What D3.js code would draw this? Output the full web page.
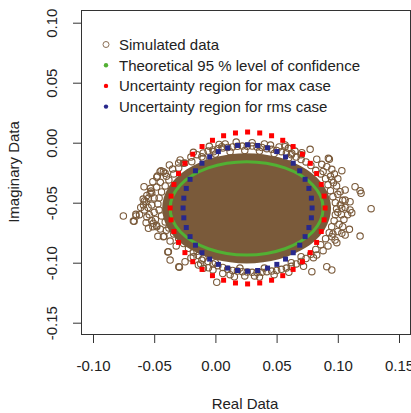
<!DOCTYPE html>
<meta charset="utf-8">
<script src="https://d3js.org/d3.v7.min.js"></script>
<style>
body { margin: 0; background: #fff; }
svg { display: block; font-family: "Liberation Sans", Arial, sans-serif; }
.axis text { font-size: 15px; fill: #222; }
.axis path, .axis line { stroke: #333; }
.frame { fill: none; stroke: #333; stroke-width: 1; }
.sim { fill: none; stroke: #7a5a3a; stroke-width: 1.1; }
.core { fill: #7a5a3a; stroke: none; }
.theo { fill: none; stroke: #52b033; stroke-width: 3; }
.maxpt { fill: #ff0000; }
.rmspt { fill: #28288c; }
.legend text, .label { font-size: 15px; fill: #222; }
</style>
<body>
<script>

// tick labels
var xTicks = [-0.10, -0.05, 0.00, 0.05, 0.10, 0.15];
var yTicks = [-0.15, -0.10, -0.05, 0.00, 0.05, 0.10];

var legendLabels = ["Simulated data", "Theoretical 95 % level of confidence",
  "Uncertainty region for max case", "Uncertainty region for rms case"];

// dense centre of the simulated cloud (outline of the solid area)
var coreOutline = [
  [0.0945,-0.0547],[0.0893,-0.0371],[0.0743,-0.0222],[0.0519,-0.0122],[0.0255,-0.0087],
  [-0.0009,-0.0122],[-0.0233,-0.0222],[-0.0383,-0.0371],[-0.0435,-0.0547],[-0.0383,-0.0723],
  [-0.0233,-0.0872],[-0.0009,-0.0972],[0.0255,-0.1007],[0.0519,-0.0972],[0.0743,-0.0872],
  [0.0893,-0.0723]
];

// simulated points around the centre (band + outliers)
var simulated = [
  // outliers left
  [-0.0752,-0.0611],[-0.0670,-0.0653],[-0.0648,-0.0611],[-0.0588,-0.0519],[-0.0580,-0.0486],
  [-0.0533,-0.0422],[-0.0525,-0.0403],[-0.0511,-0.0325],[-0.0474,-0.0278],[-0.0452,-0.0242],
  [-0.0376,-0.0186],[-0.0288,-0.0144],[-0.0566,-0.0667],[-0.0547,-0.0713],[-0.0511,-0.0700],
  [-0.0479,-0.0700],[-0.0425,-0.0783],[-0.0384,-0.0908],[-0.0370,-0.0978],[-0.0299,-0.1033],
  [-0.0411,-0.0255],[-0.0444,-0.0233],[-0.0479,-0.0288],[-0.0583,-0.0367],[-0.0547,-0.0463],
  [-0.0566,-0.0492],[-0.0261,-0.0172],[-0.0650,-0.0597],[-0.0664,-0.0655],[-0.0507,-0.0672],
  [-0.0389,-0.0911],[-0.0294,-0.1038],[-0.0248,-0.0992],[-0.0139,-0.1019],[-0.0057,-0.1042],
  [0.0011,-0.1163],[-0.0180,-0.0950],[-0.0111,-0.0978],[0.0155,-0.1117],[-0.0098,-0.1047],
  [-0.0425,-0.0242],
  // outliers top
  [0.0052,-0.0033],[-0.0016,-0.0075],[-0.0111,-0.0117],[-0.0193,-0.0158],[0.0569,-0.0033],
  [0.0596,-0.0047],[0.0774,-0.0055],[0.0569,-0.0019],[0.0624,-0.0088],[0.0706,-0.0083],
  // outliers right
  [0.0931,-0.0138],[0.0828,-0.0138],[0.0869,-0.0180],[0.0910,-0.0200],[0.0951,-0.0222],
  [0.0972,-0.0261],[0.1033,-0.0233],[0.0951,-0.0311],[0.0964,-0.0333],[0.1141,-0.0367],
  [0.1190,-0.0422],[0.1060,-0.0394],[0.1019,-0.0408],[0.1100,-0.0492],[0.1060,-0.0478],
  [0.1033,-0.0547],[0.1100,-0.0561],[0.1272,-0.0550],[0.1182,-0.0778],[0.1182,-0.0400],
  [0.0923,-0.0130],[0.1095,-0.0722],[0.1060,-0.0769],[0.0978,-0.0811],[0.0910,-0.1033],
  [0.0951,-0.1061],[0.0788,-0.1075],[0.1033,-0.0755],[0.0992,-0.0833],[0.0951,-0.0783],
  [0.1114,-0.0583],[0.0828,-0.0936],[0.0801,-0.0958],
  // band top
  [-0.0200,-0.0120],[-0.0150,-0.0100],[-0.0100,-0.0085],[-0.0060,-0.0070],[-0.0020,-0.0060],
  [0.0020,-0.0050],[0.0060,-0.0045],[0.0100,-0.0040],[0.0140,-0.0035],[0.0180,-0.0030],
  [0.0220,-0.0028],[0.0260,-0.0030],[0.0300,-0.0028],[0.0340,-0.0035],[0.0380,-0.0040],
  [0.0420,-0.0050],[0.0460,-0.0055],[0.0500,-0.0065],[0.0540,-0.0075],[0.0580,-0.0085],
  [0.0620,-0.0100],[0.0660,-0.0120],[0.0700,-0.0140],[0.0740,-0.0160],[-0.0100,-0.0130],
  [0.0000,-0.0095],[0.0120,-0.0075],[0.0240,-0.0065],[0.0360,-0.0070],[0.0480,-0.0090],
  [0.0600,-0.0125],[0.0080,-0.0010],[0.0400,-0.0010],
  [-0.0050,-0.0030],[0.0030,-0.0015],[0.0170,0.0005],[0.0300,0.0000],[0.0450,-0.0020],
  [0.0520,-0.0035],[0.0650,-0.0070],[-0.0180,-0.0080],[0.0700,-0.0100],
  // band right
  [0.0780,-0.0190],[0.0820,-0.0230],[0.0860,-0.0260],[0.0900,-0.0300],[0.0920,-0.0350],
  [0.0940,-0.0400],[0.0960,-0.0450],[0.0980,-0.0500],[0.0990,-0.0550],[0.0980,-0.0600],
  [0.0970,-0.0650],[0.0950,-0.0700],[0.0930,-0.0750],[0.0900,-0.0800],[0.0860,-0.0850],
  [0.0820,-0.0890],[0.1000,-0.0430],[0.1020,-0.0520],[0.1030,-0.0600],[0.1010,-0.0680],
  [0.0990,-0.0360],[0.1050,-0.0640],[0.1000,-0.0740],
  [0.0880,-0.0240],[0.0940,-0.0280],[0.1000,-0.0300],[0.1040,-0.0480],[0.1080,-0.0600],
  [0.1040,-0.0700],[0.0960,-0.0760],[0.0920,-0.0860],[0.0880,-0.0900],[0.1060,-0.0540],
  [0.1000,-0.0580],
  // band bottom
  [0.0780,-0.0930],[0.0740,-0.0965],[0.0700,-0.0990],[0.0660,-0.1010],[0.0620,-0.1030],
  [0.0580,-0.1045],[0.0540,-0.1055],[0.0500,-0.1065],[0.0460,-0.1070],[0.0420,-0.1075],
  [0.0380,-0.1080],[0.0340,-0.1082],[0.0300,-0.1080],[0.0260,-0.1078],[0.0220,-0.1075],
  [0.0180,-0.1070],[0.0140,-0.1065],[0.0100,-0.1055],[0.0060,-0.1040],[0.0020,-0.1025],
  [-0.0020,-0.1010],[-0.0060,-0.0990],[-0.0100,-0.0965],[-0.0140,-0.0940],[-0.0180,-0.0910],
  [-0.0220,-0.0880],[0.0620,-0.1000],[0.0400,-0.1045],[0.0200,-0.1045],[0.0000,-0.1000],
  [-0.0150,-0.0905],[0.0320,-0.1110],[0.0060,-0.1090],
  [0.0720,-0.1030],[0.0600,-0.1080],[0.0480,-0.1100],[0.0360,-0.1120],[0.0240,-0.1110],
  [0.0120,-0.1100],[-0.0020,-0.1060],[-0.0120,-0.1010],[-0.0200,-0.0960],[0.0700,-0.0950],
  // band left
  [-0.0260,-0.0840],[-0.0300,-0.0800],[-0.0340,-0.0760],[-0.0380,-0.0710],[-0.0410,-0.0660],
  [-0.0440,-0.0610],[-0.0460,-0.0560],[-0.0470,-0.0510],[-0.0460,-0.0460],[-0.0440,-0.0410],
  [-0.0410,-0.0360],[-0.0380,-0.0310],[-0.0340,-0.0260],[-0.0300,-0.0210],[-0.0250,-0.0170],
  [-0.0500,-0.0580],[-0.0520,-0.0520],[-0.0500,-0.0460],[-0.0490,-0.0640],[-0.0540,-0.0600],
  [-0.0530,-0.0380],[-0.0480,-0.0370],[-0.0450,-0.0720],[-0.0420,-0.0780],[-0.0580,-0.0560],
  [-0.0610,-0.0540],[-0.0560,-0.0620],
  [-0.0320,-0.0860],[-0.0370,-0.0820],[-0.0400,-0.0730],[-0.0480,-0.0690],[-0.0520,-0.0650],
  [-0.0550,-0.0540],[-0.0560,-0.0440],[-0.0520,-0.0420],[-0.0450,-0.0330],[-0.0400,-0.0280],
  [-0.0350,-0.0220],[-0.0300,-0.0170],[-0.0620,-0.0600],[-0.0590,-0.0470],[-0.0470,-0.0780]
];

// theoretical 95 % ellipse
var theoretical = [
  [0.0880,-0.0547],[0.0859,-0.0446],[0.0796,-0.0352],[0.0697,-0.0272],[0.0568,-0.0210],
  [0.0417,-0.0171],[0.0255,-0.0158],[0.0093,-0.0171],[-0.0058,-0.0210],[-0.0187,-0.0272],
  [-0.0286,-0.0352],[-0.0349,-0.0446],[-0.0370,-0.0547],[-0.0349,-0.0648],[-0.0286,-0.0742],
  [-0.0187,-0.0822],[-0.0058,-0.0884],[0.0093,-0.0923],[0.0255,-0.0936],[0.0417,-0.0923],
  [0.0568,-0.0884],[0.0697,-0.0822],[0.0796,-0.0742],[0.0859,-0.0648]
];

// uncertainty region, max case
var maxCase = [
  [0.0896,-0.0544],[0.0888,-0.0445],[0.0865,-0.0348],[0.0827,-0.0257],[0.0775,-0.0172],
  [0.0711,-0.0096],[0.0635,-0.0032],[0.0550,0.0020],[0.0459,0.0058],[0.0362,0.0081],
  [0.0263,0.0089],[0.0164,0.0081],[0.0067,0.0058],[-0.0024,0.0020],[-0.0109,-0.0032],
  [-0.0185,-0.0096],[-0.0249,-0.0172],[-0.0301,-0.0257],[-0.0339,-0.0348],[-0.0362,-0.0445],
  [-0.0370,-0.0544],[-0.0362,-0.0643],[-0.0339,-0.0740],[-0.0301,-0.0831],[-0.0249,-0.0916],
  [-0.0185,-0.0992],[-0.0109,-0.1056],[-0.0024,-0.1108],[0.0067,-0.1146],[0.0164,-0.1169],
  [0.0263,-0.1177],[0.0362,-0.1169],[0.0459,-0.1146],[0.0550,-0.1108],[0.0635,-0.1056],
  [0.0711,-0.0992],[0.0775,-0.0916],[0.0827,-0.0831],[0.0865,-0.0740],[0.0888,-0.0643]
];

// uncertainty region, rms case
var rmsCase = [
  [0.0790,-0.0544],[0.0784,-0.0462],[0.0764,-0.0381],[0.0733,-0.0305],[0.0689,-0.0234],
  [0.0636,-0.0171],[0.0573,-0.0118],[0.0502,-0.0074],[0.0426,-0.0043],[0.0345,-0.0023],
  [0.0263,-0.0017],[0.0181,-0.0023],[0.0100,-0.0043],[0.0024,-0.0074],[-0.0047,-0.0118],
  [-0.0110,-0.0171],[-0.0163,-0.0234],[-0.0207,-0.0305],[-0.0238,-0.0381],[-0.0258,-0.0462],
  [-0.0264,-0.0544],[-0.0258,-0.0626],[-0.0238,-0.0707],[-0.0207,-0.0783],[-0.0163,-0.0854],
  [-0.0110,-0.0917],[-0.0047,-0.0970],[0.0024,-0.1014],[0.0100,-0.1045],[0.0181,-0.1065],
  [0.0263,-0.1071],[0.0345,-0.1065],[0.0426,-0.1045],[0.0502,-0.1014],[0.0573,-0.0970],
  [0.0636,-0.0917],[0.0689,-0.0854],[0.0733,-0.0783],[0.0764,-0.0707],[0.0784,-0.0626]
];

var W = 411, H = 413;
var box = {left: 81, top: 10, right: 410, bottom: 334};

var svg = d3.select("body").append("svg")
  .attr("width", W)
  .attr("height", H);

var x = d3.scaleLinear()
  .domain([-0.10, 0.15])
  .range([93, 399]);

var y = d3.scaleLinear()
  .domain([-0.15, 0.10])
  .range([322.7, 22.7]);

// R style labels: plain hyphen for minus
var fmt = function(d) { return d3.format(".2f")(d).replace("\u2212", "-"); };

var plot = svg.append("g");

plot.append("path")
  .datum(coreOutline)
  .attr("class", "core")
  .attr("d", d3.line()
    .x(function(d) { return x(d[0]); })
    .y(function(d) { return y(d[1]); })
    .curve(d3.curveCardinalClosed));

plot.selectAll(".sim")
  .data(simulated).enter().append("circle")
  .attr("class", "sim")
  .attr("r", 3.2)
  .attr("cx", function(d) { return x(d[0]); })
  .attr("cy", function(d) { return y(d[1]); });

plot.append("path")
  .datum(theoretical)
  .attr("class", "theo")
  .attr("d", d3.line()
    .x(function(d) { return x(d[0]); })
    .y(function(d) { return y(d[1]); })
    .curve(d3.curveCardinalClosed));

plot.selectAll(".maxpt")
  .data(maxCase).enter().append("rect")
  .attr("class", "maxpt")
  .attr("width", 5).attr("height", 5)
  .attr("x", function(d) { return x(d[0]) - 2.5; })
  .attr("y", function(d) { return y(d[1]) - 2.5; });

plot.selectAll(".rmspt")
  .data(rmsCase).enter().append("rect")
  .attr("class", "rmspt")
  .attr("width", 5).attr("height", 5)
  .attr("x", function(d) { return x(d[0]) - 2.5; })
  .attr("y", function(d) { return y(d[1]) - 2.5; });

// frame
svg.append("rect")
  .attr("class", "frame")
  .attr("x", box.left + 0.5).attr("y", box.top + 0.5)
  .attr("width", box.right - box.left).attr("height", box.bottom - box.top);

// axes
var xAxis = svg.append("g")
  .attr("class", "axis")
  .attr("transform", "translate(0," + (box.bottom + 0.5) + ")")
  .call(d3.axisBottom(x).tickValues(xTicks).tickFormat(fmt).tickSize(8.5).tickPadding(0));
xAxis.select(".domain").remove();
xAxis.selectAll("text").attr("y", 36).attr("dy", 0);

var yAxis = svg.append("g")
  .attr("class", "axis")
  .attr("transform", "translate(" + (box.left + 0.5) + ",0)")
  .call(d3.axisLeft(y).tickValues(yTicks).tickFormat(fmt).tickSize(8.5));
yAxis.select(".domain").remove();
yAxis.selectAll("text")
  .attr("x", 0).attr("dy", 0)
  .attr("text-anchor", "middle")
  .attr("transform", "translate(-24.5,0) rotate(-90)");

svg.append("text")
  .attr("class", "label")
  .attr("x", 245).attr("y", 409)
  .attr("text-anchor", "middle")
  .text("Real Data");

svg.append("text")
  .attr("class", "label")
  .attr("text-anchor", "middle")
  .attr("transform", "translate(19,172) rotate(-90)")
  .text("Imaginary Data");

// legend
var legend = svg.append("g").attr("class", "legend");
var leg = legend.selectAll("g")
  .data(legendLabels).enter().append("g")
  .attr("transform", function(d, i) { return "translate(106," + (44.5 + i * 20.7) + ")"; });

leg.append("circle")
  .attr("r", function(d, i) { return i === 0 ? 3 : 2.2; })
  .attr("fill", function(d, i) { return ["none", "#52b033", "#ff0000", "#28288c"][i]; })
  .attr("stroke", function(d, i) { return i === 0 ? "#8a6e55" : "none"; })
  .attr("stroke-width", 1);

leg.append("text")
  .attr("x", 13)
  .attr("y", 5.5)
  .text(function(d) { return d; });

</script>
</body>
